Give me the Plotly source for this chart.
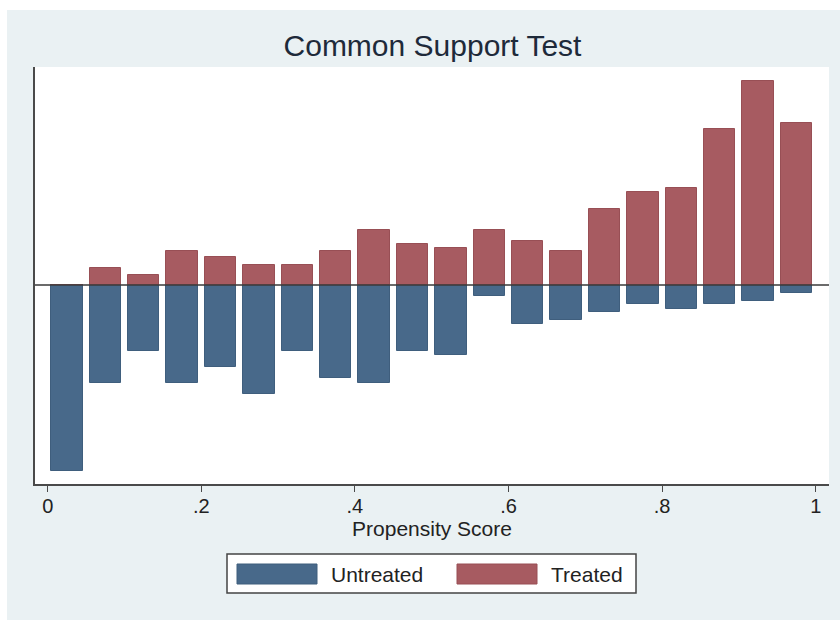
import plotly.graph_objects as go

# ---- data (y units are arbitrary frequency units) ----
bin_centers = [0.025, 0.075, 0.125, 0.175, 0.225, 0.275, 0.325, 0.375, 0.425, 0.475,
               0.525, 0.575, 0.625, 0.675, 0.725, 0.775, 0.825, 0.875, 0.925, 0.975]
treated = [0, 16.7, 10, 34.3, 28, 20, 20, 34.3, 55.3, 40.7,
           37.3, 55.3, 44.3, 34.3, 76, 93.3, 96.7, 156, 204, 162]
untreated = [186, 97.7, 66, 97.7, 82, 109.3, 66, 93, 97.7, 66,
             70.3, 11.3, 38.7, 35.3, 27.3, 19, 24, 19, 16, 8]
tick_vals = [0, 0.2, 0.4, 0.6, 0.8, 1]
tick_text = ["0", ".2", ".4", ".6", ".8", "1"]
series_names = ["Untreated", "Treated"]

BLUE = "#48698A"
RED = "#A75B61"
BLUE_EDGE = "#3F5E7D"
RED_EDGE = "#984F55"
BG = "#EAF1F3"
AXC = "#4A4A4A"
FONT = "Liberation Sans, Arial, sans-serif"

W, H = 840, 620
L, R, T, B = 35, 11, 67, 136
PW, PH = W - L - R, H - T - B


def px(x):
    return (x - L) / PW


def py(y):
    return (H - B - y) / PH


fig = go.Figure()
fig.add_trace(go.Bar(x=bin_centers, y=[-v for v in untreated], width=0.041,
                     name=series_names[0], marker=dict(color=BLUE, line=dict(color=BLUE_EDGE, width=1)),
                     customdata=untreated, hovertemplate="%{x}: %{customdata}<extra>Untreated</extra>"))
fig.add_trace(go.Bar(x=bin_centers, y=treated, width=0.041,
                     name=series_names[1], marker=dict(color=RED, line=dict(color=RED_EDGE, width=1)),
                     hovertemplate="%{x}: %{y}<extra>Treated</extra>"))

shapes = []
# white strips at the top and left edges of the image
shapes.append(dict(type="rect", xref="paper", yref="paper", x0=px(0), x1=px(W), y0=py(10), y1=py(0),
                   fillcolor="white", line=dict(width=0), layer="above"))
shapes.append(dict(type="rect", xref="paper", yref="paper", x0=px(0), x1=px(7), y0=py(H), y1=py(0),
                   fillcolor="white", line=dict(width=0), layer="above"))
# zero line
shapes.append(dict(type="line", xref="paper", yref="y", x0=0, x1=1, y0=0, y1=0,
                   line=dict(color="#3A3A3A", width=1.5), layer="above"))
# legend box and swatches
shapes.append(dict(type="rect", xref="paper", yref="paper", x0=px(227), x1=px(636), y0=py(593), y1=py(554),
                   fillcolor="white", line=dict(color="#444444", width=1.5)))
shapes.append(dict(type="rect", xref="paper", yref="paper", x0=px(237), x1=px(317), y0=py(584), y1=py(564),
                   fillcolor=BLUE, line=dict(color=BLUE_EDGE, width=1)))
shapes.append(dict(type="rect", xref="paper", yref="paper", x0=px(457), x1=px(537), y0=py(584), y1=py(564),
                   fillcolor=RED, line=dict(color=RED_EDGE, width=1)))

annotations = [
    dict(text=series_names[0], xref="paper", yref="paper", x=px(329), y=py(574), xanchor="left",
         yanchor="middle", showarrow=False, font=dict(family=FONT, size=21, color="#222222")),
    dict(text=series_names[1], xref="paper", yref="paper", x=px(549), y=py(574), xanchor="left",
         yanchor="middle", showarrow=False, font=dict(family=FONT, size=21, color="#222222")),
]

fig.update_layout(
    width=W, height=H,
    margin=dict(l=L, r=R, t=T, b=B, pad=0),
    paper_bgcolor=BG, plot_bgcolor="white",
    barmode="overlay", bargap=0,
    showlegend=False,
    title=dict(text="Common Support Test", x=432.5 / W, xanchor="center",
               y=1 - 45 / H, yanchor="middle", yref="container",
               font=dict(family=FONT, size=30, color="#1E2A3A")),
    xaxis=dict(range=[(L - 47.7) / 768, (W - R - 47.7) / 768], tickvals=tick_vals, ticktext=tick_text,
               ticks="outside", ticklen=6, tickwidth=1.2, tickcolor=AXC, ticklabelstandoff=-3,
               showline=True, linecolor=AXC, linewidth=1.5, showgrid=False, zeroline=False,
               tickfont=dict(family=FONT, size=20, color="#222222"),
               title=dict(text="Propensity Score", standoff=0,
                          font=dict(family=FONT, size=21, color="#222222"))),
    yaxis=dict(range=[-199, 218], showticklabels=False, ticks="", showgrid=False, zeroline=False,
               showline=True, linecolor=AXC, linewidth=1.5),
    shapes=shapes,
    annotations=annotations,
)

fig.write_html("out.html", config={"displayModeBar": False},
               post_script="document.body.style.margin='0px';")
